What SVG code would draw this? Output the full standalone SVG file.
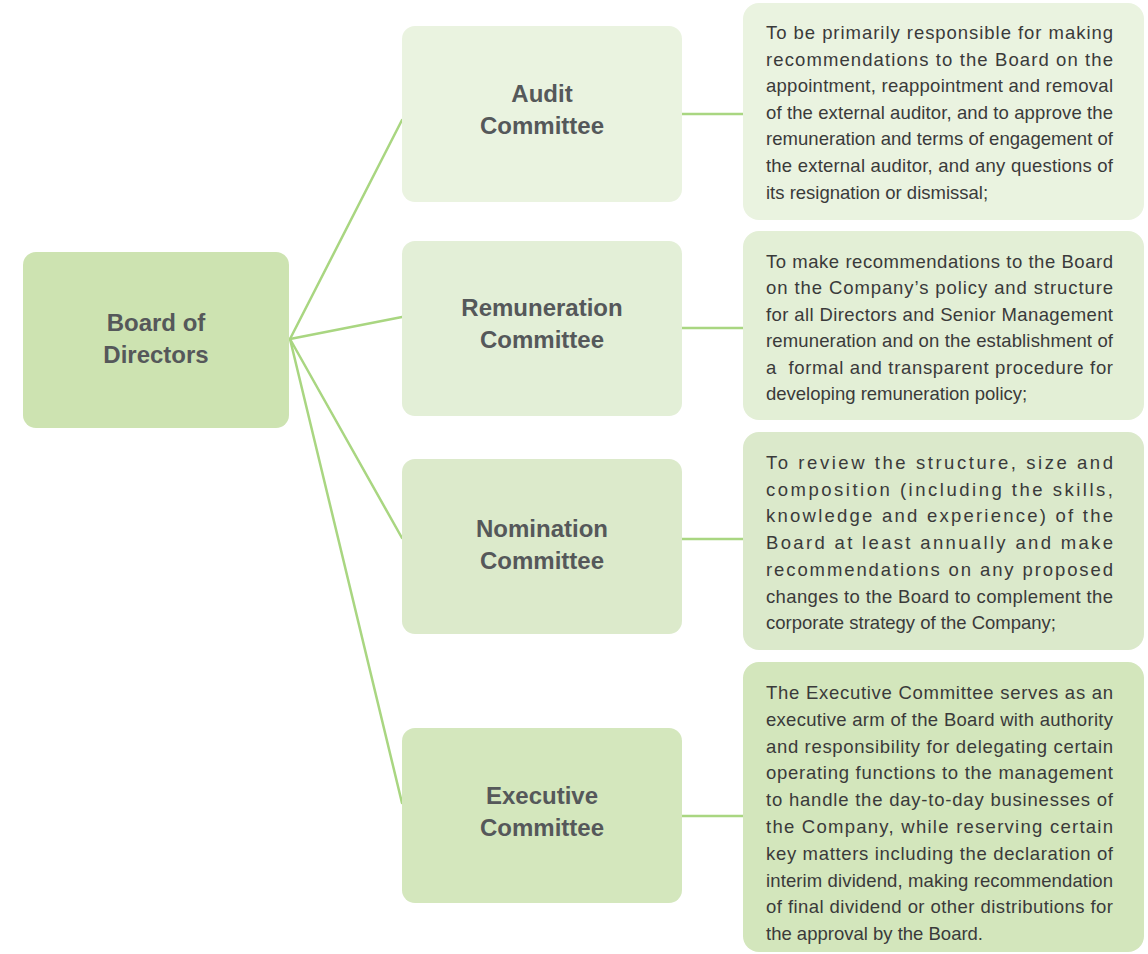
<svg xmlns="http://www.w3.org/2000/svg" width="1148" height="954" viewBox="0 0 1148 954">
  <style>
    .node-title { font-family: "Liberation Sans", Arial, sans-serif; font-size: 24px; font-weight: bold; fill: #55585a; text-anchor: middle; }
    .desc { font-family: "Liberation Sans", Arial, sans-serif; font-size: 18.5px; fill: #3a3a3a; }
    .link { stroke: #a9d681; stroke-width: 2.5; fill: none; stroke-linecap: round; }
  </style>
  <rect width="1148" height="954" fill="#ffffff"/>

  <!-- connectors -->
  <g id="connectors">
    <line class="link" x1="290" y1="339" x2="402" y2="120"/>
    <line class="link" x1="290" y1="339" x2="402" y2="317"/>
    <line class="link" x1="290" y1="339" x2="402" y2="538"/>
    <line class="link" x1="290" y1="339" x2="402" y2="803"/>
    <line class="link" x1="682" y1="114" x2="743" y2="114"/>
    <line class="link" x1="682" y1="328" x2="743" y2="328"/>
    <line class="link" x1="682" y1="539" x2="743" y2="539"/>
    <line class="link" x1="682" y1="816" x2="743" y2="816"/>
  </g>

  <!-- root -->
  <g id="board">
    <rect x="23" y="252" width="266" height="176" rx="13" fill="#cde3b1"/>
    <text class="node-title" x="156" y="331">Board of</text>
    <text class="node-title" x="156" y="363">Directors</text>
  </g>

  <!-- committees -->
  <g id="audit">
    <rect x="402" y="26" width="280" height="176" rx="13" fill="#eaf3e0"/>
    <text class="node-title" x="542" y="102">Audit</text>
    <text class="node-title" x="542" y="134">Committee</text>
  </g>
  <g id="remuneration">
    <rect x="402" y="241" width="280" height="175" rx="13" fill="#e3efd7"/>
    <text class="node-title" x="542" y="316">Remuneration</text>
    <text class="node-title" x="542" y="348">Committee</text>
  </g>
  <g id="nomination">
    <rect x="402" y="459" width="280" height="175" rx="13" fill="#dceacb"/>
    <text class="node-title" x="542" y="537">Nomination</text>
    <text class="node-title" x="542" y="569">Committee</text>
  </g>
  <g id="executive">
    <rect x="402" y="728" width="280" height="175" rx="13" fill="#d4e7bd"/>
    <text class="node-title" x="542" y="804">Executive</text>
    <text class="node-title" x="542" y="836">Committee</text>
  </g>

  <!-- terms of reference -->
  <g id="audit-desc">
    <rect x="743" y="3" width="401" height="217" rx="16" fill="#eaf3e0"/>
    <text class="desc" x="766" y="39" textLength="347" lengthAdjust="spacing">To be primarily responsible for making</text>
    <text class="desc" x="766" y="65.6" textLength="347" lengthAdjust="spacing">recommendations to the Board on the</text>
    <text class="desc" x="766" y="92.2" textLength="347" lengthAdjust="spacing">appointment, reappointment and removal</text>
    <text class="desc" x="766" y="118.8" textLength="347" lengthAdjust="spacing">of the external auditor, and to approve the</text>
    <text class="desc" x="766" y="145.4" textLength="347" lengthAdjust="spacing">remuneration and terms of engagement of</text>
    <text class="desc" x="766" y="172" textLength="347" lengthAdjust="spacing">the external auditor, and any questions of</text>
    <text class="desc" x="766" y="198.6">its resignation or dismissal;</text>
  </g>
  <g id="remuneration-desc">
    <rect x="743" y="231" width="401" height="189" rx="16" fill="#e3efd6"/>
    <text class="desc" x="766" y="268" textLength="347" lengthAdjust="spacing">To make recommendations to the Board</text>
    <text class="desc" x="766" y="294.4" textLength="347" lengthAdjust="spacing">on the Company’s policy and structure</text>
    <text class="desc" x="766" y="320.8" textLength="347" lengthAdjust="spacing">for all Directors and Senior Management</text>
    <text class="desc" x="766" y="347.2" textLength="347" lengthAdjust="spacing">remuneration and on the establishment of</text>
    <text class="desc" x="766" y="373.6" textLength="347" lengthAdjust="spacing" xml:space="preserve">a  formal and transparent procedure for</text>
    <text class="desc" x="766" y="400">developing remuneration policy;</text>
  </g>
  <g id="nomination-desc">
    <rect x="743" y="432" width="401" height="218" rx="16" fill="#dbe9cb"/>
    <text class="desc" x="766" y="469" textLength="347" lengthAdjust="spacing">To review the structure, size and</text>
    <text class="desc" x="766" y="495.7" textLength="347" lengthAdjust="spacing">composition (including the skills,</text>
    <text class="desc" x="766" y="522.4" textLength="347" lengthAdjust="spacing">knowledge and experience) of the</text>
    <text class="desc" x="766" y="549.1" textLength="347" lengthAdjust="spacing">Board at least annually and make</text>
    <text class="desc" x="766" y="575.8" textLength="347" lengthAdjust="spacing">recommendations on any proposed</text>
    <text class="desc" x="766" y="602.5" textLength="347" lengthAdjust="spacing">changes to the Board to complement the</text>
    <text class="desc" x="766" y="629.2">corporate strategy of the Company;</text>
  </g>
  <g id="executive-desc">
    <rect x="743" y="662" width="401" height="290" rx="16" fill="#d3e6bc"/>
    <text class="desc" x="766" y="699" textLength="347" lengthAdjust="spacing">The Executive Committee serves as an</text>
    <text class="desc" x="766" y="725.8" textLength="347" lengthAdjust="spacing">executive arm of the Board with authority</text>
    <text class="desc" x="766" y="752.6" textLength="347" lengthAdjust="spacing">and responsibility for delegating certain</text>
    <text class="desc" x="766" y="779.4" textLength="347" lengthAdjust="spacing">operating functions to the management</text>
    <text class="desc" x="766" y="806.2" textLength="347" lengthAdjust="spacing">to handle the day-to-day businesses of</text>
    <text class="desc" x="766" y="833" textLength="347" lengthAdjust="spacing">the Company, while reserving certain</text>
    <text class="desc" x="766" y="859.8" textLength="347" lengthAdjust="spacing">key matters including the declaration of</text>
    <text class="desc" x="766" y="886.6" textLength="347" lengthAdjust="spacing">interim dividend, making recommendation</text>
    <text class="desc" x="766" y="913.4" textLength="347" lengthAdjust="spacing">of final dividend or other distributions for</text>
    <text class="desc" x="766" y="940.2">the approval by the Board.</text>
  </g>
</svg>
